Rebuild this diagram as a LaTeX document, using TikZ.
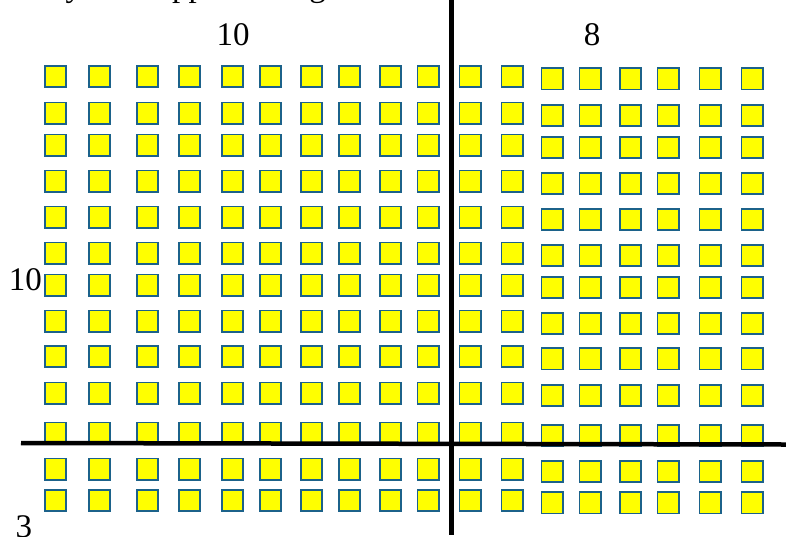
\documentclass[tikz,border=0pt]{standalone}
\usepackage{fontspec}
\setmainfont{Liberation Serif}
\definecolor{sqfill}{RGB}{255,255,0}
\definecolor{sqedge}{RGB}{28,98,138}
\begin{document}
\begin{tikzpicture}[x=1pt,y=-1pt,
  tile/.style={rectangle, draw=sqedge, fill=sqfill, line width=1.8pt, minimum size=21.2pt, inner sep=0pt},
  numlabel/.style={font=\fontsize{33}{36}\selectfont, inner sep=0pt, anchor=base},
  divider/.style={line width=4.5pt, draw=black}]
\useasboundingbox (0,0) rectangle (786,536);
% tiles
\foreach \yy [count=\r] in {76.5,113,145,181,217,253,285,321,356.5,393,433,469,500.5} {
  \foreach \xx [count=\c] in {55.5,99.5,147.5,189.5,232.5,270.5,311.5,349.5,390.5,428}
    \node[tile] (s-\r-\c) at (\xx,\yy) {};
  \foreach \xx [count=\c from 11] in {470,512}
    \node[tile] (s-\r-\c) at (\xx,\yy) {};
  \foreach \xx [count=\c from 13] in {552,590,630.5,668,710,752}
    \node[tile] (s-\r-\c) at (\xx,\yy+2.3) {};
}
% dividers
\coordinate (vtop) at (451.5,0);
\coordinate (vbot) at (451.5,535);
\coordinate (hleft) at (21,443);
\coordinate (hright) at (786,444.5);
\draw[divider] (vtop) -- (vbot);
\draw[divider] (hleft) -- (hright);
% labels
\node[numlabel, anchor=base west] (title) at (5,-3.5) {Study with approach a grid};
\node[numlabel] (top10) at (233,45) {10};
\node[numlabel] (top8) at (592,45) {8};
\node[numlabel] (left10) at (25.5,290) {10};
\node[numlabel] (left3) at (24,537) {3};
\end{tikzpicture}
\end{document}
